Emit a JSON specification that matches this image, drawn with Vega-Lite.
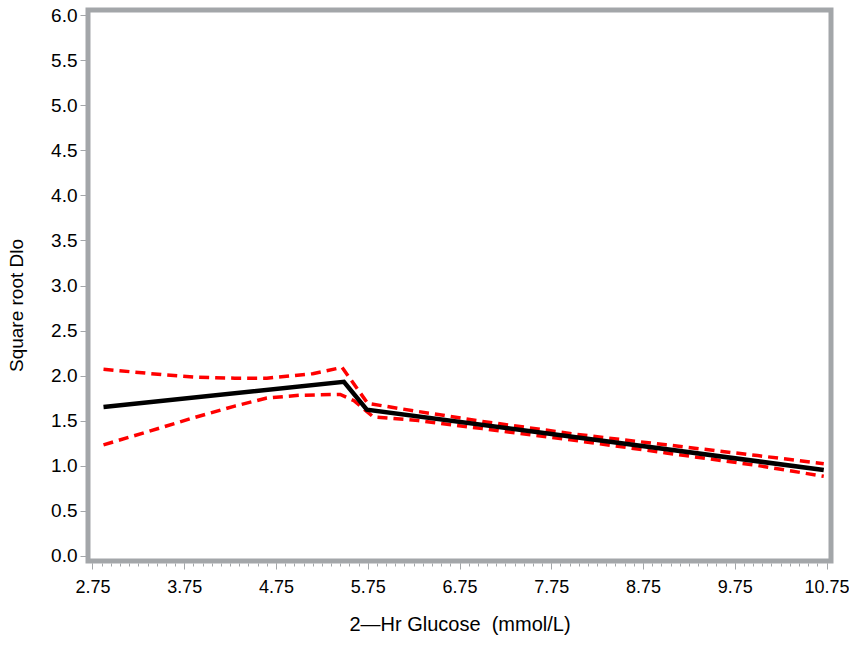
{
  "$schema": "https://vega.github.io/schema/vega-lite/v6.json",
  "width": 743,
  "height": 551,
  "autosize": {"type": "none"},
  "padding": {"left": 88, "top": 10, "right": 18, "bottom": 84},
  "background": "white",
  "config": {
    "font": "Liberation Sans",
    "view": {"stroke": "#a3a6a9", "strokeWidth": 5},
    "axis": {
      "labelFont": "Liberation Sans",
      "titleFont": "Liberation Sans",
      "labelColor": "black",
      "titleColor": "black",
      "titleFontWeight": "normal",
      "labelFontSize": 19,
      "titleFontSize": 19,
      "domain": false,
      "grid": false,
      "tickColor": "#a3a6a9",
      "tickWidth": 1
    }
  },
  "datasets": {
    "fit": [
      {"x": 2.87, "y": 1.65},
      {"x": 5.49, "y": 1.93},
      {"x": 5.74, "y": 1.62},
      {"x": 10.72, "y": 0.95}
    ],
    "upper": [
      {"x": 2.87, "y": 2.07},
      {"x": 3.5, "y": 2.01},
      {"x": 3.9, "y": 1.98},
      {"x": 4.3, "y": 1.97},
      {"x": 4.65, "y": 1.97},
      {"x": 5.15, "y": 2.02},
      {"x": 5.47, "y": 2.09},
      {"x": 5.75, "y": 1.69},
      {"x": 6.3, "y": 1.6},
      {"x": 7.0, "y": 1.49},
      {"x": 8.0, "y": 1.35},
      {"x": 9.0, "y": 1.23},
      {"x": 10.0, "y": 1.11},
      {"x": 10.72, "y": 1.02}
    ],
    "lower": [
      {"x": 2.87, "y": 1.23},
      {"x": 3.3, "y": 1.36},
      {"x": 3.85, "y": 1.53},
      {"x": 4.3, "y": 1.66},
      {"x": 4.65, "y": 1.75},
      {"x": 5.0, "y": 1.78},
      {"x": 5.45, "y": 1.79},
      {"x": 5.6, "y": 1.72},
      {"x": 5.81, "y": 1.54},
      {"x": 6.3, "y": 1.5},
      {"x": 7.0, "y": 1.41},
      {"x": 8.0, "y": 1.28},
      {"x": 9.0, "y": 1.14},
      {"x": 10.0, "y": 1.0},
      {"x": 10.72, "y": 0.88}
    ]
  },
  "resolve": {"axis": {"x": "independent"}},
  "layer": [
    {
      "data": {"name": "fit"},
      "mark": {"type": "point", "opacity": 0},
      "encoding": {
        "x": {
          "field": "x", "type": "quantitative",
          "scale": {"domain": [2.701, 10.799], "nice": false, "zero": false},
          "axis": {
            "orient": "bottom", "offset": 2,
            "values": [2.75,2.85,2.95,3.05,3.15,3.25,3.35,3.45,3.55,3.65,3.75,3.85,3.95,4.05,4.15,4.25,4.35,4.45,4.55,4.65,4.75,4.85,4.95,5.05,5.15,5.25,5.35,5.45,5.55,5.65,5.75,5.85,5.95,6.05,6.15,6.25,6.35,6.45,6.55,6.65,6.75,6.85,6.95,7.05,7.15,7.25,7.35,7.45,7.55,7.65,7.75,7.85,7.95,8.05,8.15,8.25,8.35,8.45,8.55,8.65,8.75,8.85,8.95,9.05,9.15,9.25,9.35,9.45,9.55,9.65,9.75,9.85,9.95,10.05,10.15,10.25,10.35,10.45,10.55,10.65,10.75],
            "labels": false, "title": null, "tickSize": 3
          }
        },
        "y": {
          "field": "y", "type": "quantitative",
          "scale": {"domain": [-0.061, 6.061], "nice": false, "zero": false},
          "axis": {
            "offset": 2, "tickSize": 6, "labelPadding": 3,
            "values": [0,0.5,1,1.5,2,2.5,3,3.5,4,4.5,5,5.5,6],
            "format": ".1f",
            "title": "Square root Dlo",
            "titleX": -70, "titleY": 295,
            "titleAlign": "center", "titleBaseline": "middle", "titleAngle": -90
          }
        }
      }
    },
    {
      "data": {"name": "upper"},
      "mark": {"type": "line", "color": "#ff0000", "strokeWidth": 3.5, "strokeDash": [10, 6]},
      "encoding": {
        "x": {
          "field": "x", "type": "quantitative",
          "scale": {"domain": [2.701, 10.799], "nice": false, "zero": false},
          "axis": {
            "orient": "bottom", "offset": 2, "tickSize": 6, "labelPadding": 9,
            "labelFontSize": 18,
            "values": [2.75,3.75,4.75,5.75,6.75,7.75,8.75,9.75,10.75],
            "format": ".2f",
            "title": "2—Hr Glucose \u00a0(mmol/L)",
            "titleFontSize": 20,
            "titlePadding": 18
          }
        },
        "y": {"field": "y", "type": "quantitative"}
      }
    },
    {
      "data": {"name": "lower"},
      "mark": {"type": "line", "color": "#ff0000", "strokeWidth": 3.5, "strokeDash": [10, 6]},
      "encoding": {
        "x": {"field": "x", "type": "quantitative", "axis": null},
        "y": {"field": "y", "type": "quantitative"}
      }
    },
    {
      "data": {"name": "fit"},
      "mark": {"type": "line", "color": "black", "strokeWidth": 4.5},
      "encoding": {
        "x": {"field": "x", "type": "quantitative", "axis": null},
        "y": {"field": "y", "type": "quantitative"}
      }
    }
  ]
}
